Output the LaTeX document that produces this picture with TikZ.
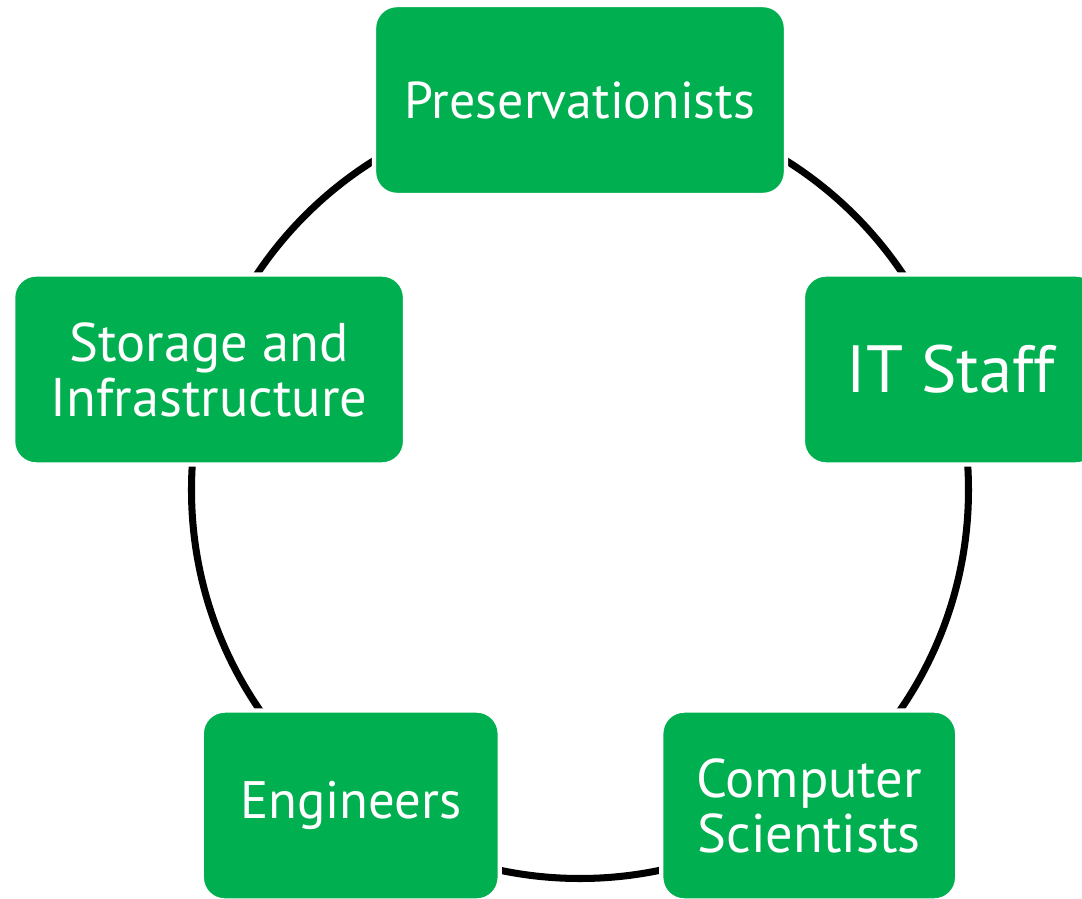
\documentclass[tikz,border=0pt]{standalone}
\usepackage{fontspec}
\setmainfont{PT Sans}
\usepackage{xcolor}
\definecolor{groupgreen}{RGB}{0,176,80}

\tikzset{
  group/.style={rectangle, rounded corners=0.46cm, fill=groupgreen, draw=white,
    line width=2.5pt, text=white, align=center, inner sep=0pt,
    minimum height=3.8cm, font=\fontsize{30}{31}\selectfont},
  ring/.style={line width=4pt, draw=black}
}

\begin{document}
\begin{tikzpicture}
  \useasboundingbox (-11.6,-8.18) rectangle (10.04,9.8);
  \coordinate (hub) at (0,0);
  \draw[ring] (hub) circle (7.77);

  \node[group, minimum width=8.24cm, font=\fontsize{29.5}{31}\selectfont] (pres) at (90:7.8) {Preservationists};
  \node[group, minimum width=5.92cm, font=\fontsize{38}{40}\selectfont] (itstaff) at (18:7.8) {IT Staff};
  \node[group, minimum width=5.92cm, font=\fontsize{31}{31.3}\selectfont] (compsci) at (-54:7.8) {Computer\\Scientists};
  \node[group, minimum width=5.96cm] (eng) at (-126:7.8) {Engineers};
  \node[group, minimum width=7.84cm, font=\fontsize{31}{31.3}\selectfont] (storage) at (162:7.8) {Storage and\\Infrastructure};
\end{tikzpicture}
\end{document}
